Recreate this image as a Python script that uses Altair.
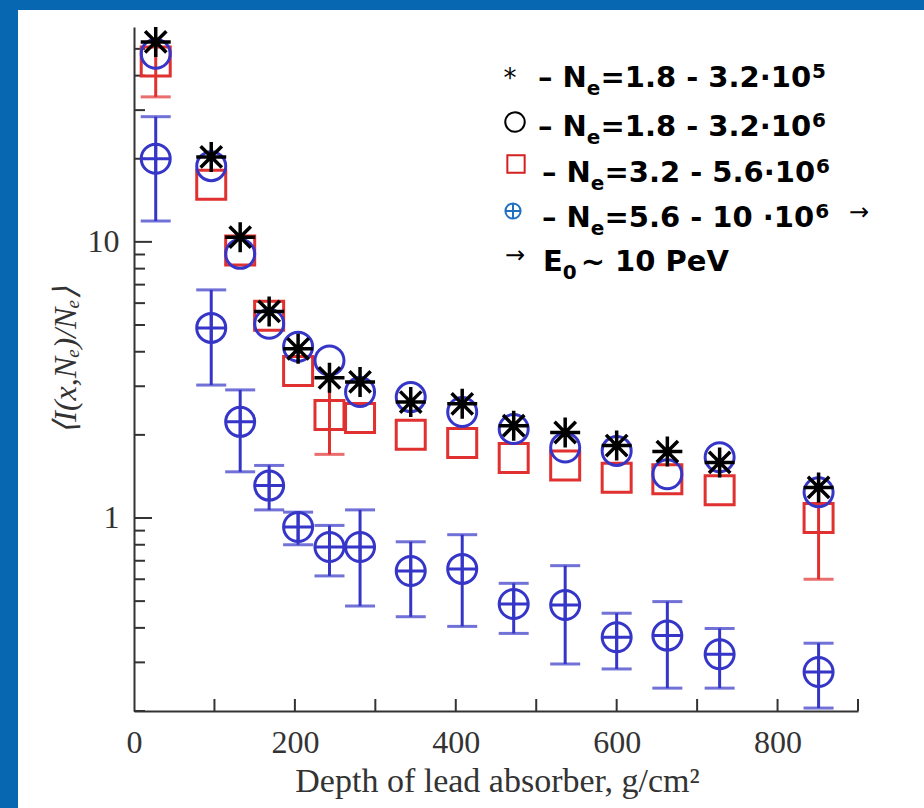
import altair as alt
import pandas as pd

# ---------------- data ----------------
depth = [27, 96, 132, 168, 204, 243, 281, 344, 408, 472, 536, 600, 663, 728, 851]

star_vals = [53, 20.3, 10.4, 5.6, 4.10, 3.22, 3.11, 2.63, 2.59, 2.16, 2.04, 1.83, 1.74, 1.59, 1.29]
circ_vals = [48, 18.8, 9.05, 5.05, 4.17, 3.72, 2.86, 2.74, 2.42, 2.10, 1.80, 1.75, 1.44, 1.66, 1.24]
sq_vals = [45, 16.1, 9.3, 5.4, 3.41, 2.36, 2.30, 2.0, 1.87, 1.65, 1.55, 1.40, 1.38, 1.26, 1.0]
sq_lo = [33.5, None, None, None, None, 1.70, None, None, None, None, None, None, None, None, 0.60]
sq_hi = [52, None, None, None, None, 3.38, None, None, None, None, None, None, None, None, 1.40]

plus_vals = [20.0, 4.88, 2.23, 1.31, 0.928, 0.785, 0.785, 0.643, 0.654, 0.488, 0.484, 0.370, 0.375, 0.321, 0.277]
plus_hi = [28.4, 6.7, 2.91, 1.55, 1.05, 0.94, 1.07, 0.82, 0.87, 0.58, 0.672, 0.452, 0.498, 0.398, 0.352]
plus_lo = [11.9, 3.03, 1.47, 1.07, 0.80, 0.617, 0.48, 0.439, 0.405, 0.382, 0.296, 0.284, 0.242, 0.242, 0.205]

x_labels = [0, 200, 400, 600, 800]
x_minor = [100, 200, 300, 400, 500, 600, 700, 800, 900]
y_labels = [1, 10]
y_minor = [0.2, 0.3, 0.4, 0.5, 0.6, 0.7, 0.8, 0.9, 2, 3, 4, 5, 6, 7, 8, 9, 20, 30, 40, 50]

# legend rows: (lead text, subscript, main text, superscript)
legend_rows = [
    ("– N", "e", "=1.8 - 3.2·10", "5"),
    ("– N", "e", "=1.8 - 3.2·10", "6"),
    ("– N", "e", "=3.2 - 5.6·10", "6"),
    ("– N", "e", "=5.6 - 10 ·10", "6"),
]
energy_parts = ("E", "0", "~ 10 PeV")

# ---------------- layout ----------------
OX, OY = 134, 27          # plot origin on the page
W, H = 724, 684
BLUE_FRAME = "#0767b0"
PBLUE = "#3535c8"
RED = "#e0302f"
AX = "#333333"
SERIF = "Liberation Serif"
SANS = "DejaVu Sans"

xs = alt.Scale(domain=[0, 900], nice=False, zero=False)
ys = alt.Scale(type="log", domain=[0.2, 60], nice=False)

xaxis = alt.Axis(values=x_labels, ticks=False, grid=False, domain=True, domainColor=AX,
                 domainWidth=2, labelFont=SERIF, labelFontSize=32, labelColor=AX,
                 labelPadding=16, labelFlush=False, zindex=1,
                 title="Depth of lead absorber, g/cm²", titleFont=SERIF, titleFontSize=34,
                 titleFontWeight="normal", titleColor=AX, titleX=363, titleY=80,
                 titleBaseline="alphabetic", titleAlign="center")
yaxis = alt.Axis(values=y_labels, ticks=False, grid=False, domain=True, domainColor=AX,
                 domainWidth=2, labelFont=SERIF, labelFontSize=32, labelColor=AX,
                 labelPadding=15, labelFlush=False, format="~g", zindex=1,
                 title="⟨I(x,Nₑ)/Nₑ⟩", titleFont=SERIF, titleFontSize=32,
                 titleFontStyle="italic", titleFontWeight="normal", titleColor=AX,
                 titleX=-69, titleY=333, titleAngle=270, titleBaseline="middle",
                 titleAlign="center")

X = lambda f: alt.X(f, type="quantitative", scale=xs, axis=xaxis)
Y = lambda f: alt.Y(f, type="quantitative", scale=ys, axis=yaxis)

df = pd.DataFrame({"depth": depth, "star": star_vals, "circ": circ_vals, "sq": sq_vals,
                   "plus": plus_vals, "plo": plus_lo, "phi": plus_hi,
                   "sqlo": sq_lo, "sqhi": sq_hi})
red_df = df.dropna(subset=["sqlo"])
one = pd.DataFrame({"a": [0]})

STAR = "M0,-1L0,1M-1,0L1,0M-0.71,-0.71L0.71,0.71M-0.71,0.71L0.71,-0.71"
OPLUS = "M-1,0A1,1,0,1,1,1,0A1,1,0,1,1,-1,0ZM0,-1L0,1M-1,0L1,0"

layers = []

# white page panel inside the blue frame
layers.append(alt.Chart(one).mark_rect(color="white").encode(
    x=alt.value(18 - OX), x2=alt.value(924 - OX), y=alt.value(10 - OY), y2=alt.value(808 - OY)))

# inward tick marks
ymaj = pd.DataFrame({"v": y_labels})
ymin = pd.DataFrame({"v": y_minor})
xmin = pd.DataFrame({"v": x_minor})
layers.append(alt.Chart(ymaj).mark_rule(color=AX, strokeWidth=2).encode(
    y=Y("v"), x=alt.value(0), x2=alt.value(18)))
layers.append(alt.Chart(ymin).mark_rule(color=AX, strokeWidth=2).encode(
    y=Y("v"), x=alt.value(0), x2=alt.value(11)))
layers.append(alt.Chart(xmin).mark_rule(color=AX, strokeWidth=2).encode(
    x=X("v"), y=alt.value(H), y2=alt.value(H - 12)))

# red error bars
layers.append(alt.Chart(red_df).mark_rule(color=RED, strokeWidth=3).encode(
    x=X("depth"), y=Y("sqlo"), y2="sqhi"))
layers.append(alt.Chart(red_df).mark_tick(color=RED, orient="horizontal", size=30, thickness=3).encode(
    x=X("depth"), y=Y("sqlo")))

# squares, circles, stars
layers.append(alt.Chart(df).mark_point(shape="square", filled=False, color=RED, size=841,
                                       strokeWidth=3, opacity=1).encode(x=X("depth"), y=Y("sq")))
layers.append(alt.Chart(df).mark_point(shape="circle", filled=False, color=PBLUE, size=841,
                                       strokeWidth=3, opacity=1).encode(x=X("depth"), y=Y("circ")))
layers.append(alt.Chart(df).mark_point(shape=STAR, filled=False, color="black", size=900,
                                       strokeWidth=3.5, opacity=1).encode(x=X("depth"), y=Y("star")))

# blue oplus series with error bars
layers.append(alt.Chart(df).mark_rule(color=PBLUE, strokeWidth=3).encode(
    x=X("depth"), y=Y("plo"), y2="phi"))
layers.append(alt.Chart(df).mark_tick(color=PBLUE, orient="horizontal", size=30, thickness=3).encode(
    x=X("depth"), y=Y("plo")))
layers.append(alt.Chart(df).mark_tick(color=PBLUE, orient="horizontal", size=30, thickness=3).encode(
    x=X("depth"), y=Y("phi")))
layers.append(alt.Chart(df).mark_point(shape=OPLUS, filled=False, color=PBLUE, size=841,
                                       strokeWidth=3, opacity=1).encode(x=X("depth"), y=Y("plus")))

# ---------------- legend (annotation) ----------------
def txt(s, x, y, size=29, weight="bold", font=SANS, align="left", baseline="alphabetic"):
    return alt.Chart(one).mark_text(text=s, font=font, fontSize=size, fontWeight=weight,
                                    color="black", align=align, baseline=baseline).encode(
        x=alt.value(x - OX), y=alt.value(y - OY))

FS, FSUB = 29, 20
# approximate DejaVu Sans Bold advance widths (em)
ADV = {"–": 0.5, " ": 0.348, "N": 0.837, "e": 0.678, "=": 0.838, ".": 0.38, "-": 0.415,
       "·": 0.38, "E": 0.683, "~": 0.838, "P": 0.733, "V": 0.774}
def width(s, fs):
    return sum(ADV.get(c, 0.696) for c in s) * fs

row_x = [538, 538, 542, 542]
row_y = [87, 136, 182, 227]
for (lead, sub, main, sup), rx, ry in zip(legend_rows, row_x, row_y):
    x1 = rx + width(lead, FS)
    x2 = x1 + width(sub, FSUB)
    x3 = x2 + width(main, FS) + 1
    layers.append(txt(lead, rx, ry))
    layers.append(txt(sub, x1, ry + 8, size=FSUB))
    layers.append(txt(main, x2, ry))
    layers.append(txt(sup, x3, ry - 9, size=FSUB))

E, E_sub, E_rest = energy_parts
ex, ey = 543, 271
layers.append(txt(E, ex, ey))
layers.append(txt(E_sub, ex + width(E, FS), ey + 8, size=FSUB))
layers.append(txt(E_rest, ex + width(E, FS) + width(E_sub, FSUB) + 4, ey))

layers.append(txt("*", 510, 87, size=26, weight="normal", align="center"))
layers.append(txt("→", 859, 220, size=24, weight="normal", align="center"))
layers.append(txt("→", 515, 263, size=24, weight="normal", align="center"))

def sym(shape, color, size, x, y):
    return alt.Chart(one).mark_point(shape=shape, filled=False, color=color, size=size,
                                     strokeWidth=2, opacity=1).encode(
        x=alt.value(x - OX), y=alt.value(y - OY))

layers.append(sym("circle", "black", 380, 515, 122))
layers.append(sym("square", "#d42020", 300, 516, 164))
layers.append(sym(OPLUS, "#1f70c0", 230, 513, 211))

chart = alt.layer(*layers).properties(
    width=W, height=H,
    autosize=alt.AutoSizeParams(type="none"),
    padding={"left": OX, "top": OY, "right": 924 - OX - W, "bottom": 808 - OY - H},
    background=BLUE_FRAME,
).configure_view(strokeWidth=0)

chart.save("out.html", embed_options={"renderer": "svg", "actions": False})
